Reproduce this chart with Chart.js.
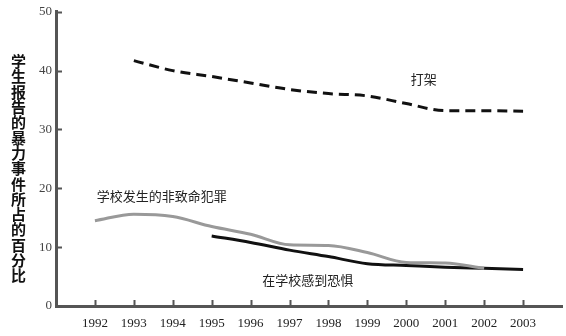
<!DOCTYPE html>
<html>
<head>
<meta charset="utf-8">
<script src="https://cdn.jsdelivr.net/npm/chart.js@4/dist/chart.umd.min.js"></script>
<style>
  html, body { margin: 0; padding: 0; background: #fff; }
  #wrap { position: relative; width: 566px; height: 336px; }
  #yTitle {
    position: absolute; left: 10px; top: 54px;
    writing-mode: vertical-rl; text-orientation: upright;
    font-family: "Noto Sans CJK SC", sans-serif; font-weight: bold;
    font-size: 15px; line-height: 16px; letter-spacing: 0.3px; color: #111;
  }
</style>
</head>
<body>
<div id="wrap">
  <canvas id="chart" width="566" height="336"></canvas>
  <div id="yTitle">学生报告的暴力事件所占的百分比</div>
</div>
<script>
// 年份
const years = [1992, 1993, 1994, 1995, 1996, 1997, 1998, 1999, 2000, 2001, 2002, 2003];
// 打架
const fighting = [null, 41.7, 40.0, 39.0, 37.9, 36.8, 36.1, 35.7, 34.4, 33.2, 33.2, 33.1];
// 学校发生的非致命犯罪
const nonFatalCrime = [14.5, 15.6, 15.2, 13.5, 12.2, 10.4, 10.3, 9.1, 7.4, 7.3, 6.4, null];
// 在学校感到恐惧
const fearAtSchool = [null, null, null, 11.9, 10.8, 9.5, 8.4, 7.2, 6.9, 6.6, 6.4, 6.2];
const yTicks = [0, 10, 20, 30, 40, 50];

// 线旁的文字标注 [文字, 年, 值, 对齐]
const notes = [
  ['打架', 2000.45, 38.6, 'center'],
  ['学校发生的非致命犯罪', 1992.05, 18.6, 'left'],
  ['在学校感到恐惧', 1996.3, 4.4, 'left']
];

const toPts = vals => years.map((y, i) => ({ x: y, y: vals[i] }));

const axisColor = '#555';
const serif = '"Liberation Serif", "DejaVu Serif", serif';

// 向内的刻度线 + 标注
const innerTicks = {
  id: 'innerTicks',
  afterDraw(chart) {
    const { ctx, scales: { x, y } } = chart;
    ctx.save();
    ctx.strokeStyle = axisColor;
    ctx.lineWidth = 2;
    ctx.beginPath();
    years.forEach(yr => {
      const px = Math.round(x.getPixelForValue(yr)) + 0.5;
      ctx.moveTo(px, y.bottom);
      ctx.lineTo(px, y.bottom - 6);
    });
    yTicks.forEach(v => {
      const py = Math.round(y.getPixelForValue(v)) + 0.5;
      ctx.moveTo(x.left, py);
      ctx.lineTo(x.left + 6, py);
    });
    ctx.stroke();

    ctx.fillStyle = '#222';
    ctx.font = '13px "Noto Sans CJK SC", sans-serif';
    ctx.textBaseline = 'middle';
    notes.forEach(([t, yr, v, align]) => {
      ctx.textAlign = align;
      ctx.fillText(t, x.getPixelForValue(yr), y.getPixelForValue(v));
    });
    ctx.restore();
  }
};

new Chart(document.getElementById('chart'), {
  type: 'line',
  data: {
    datasets: [
      {
        label: '打架',
        data: toPts(fighting),
        borderColor: '#111',
        borderWidth: 3,
        borderDash: [10, 6],
        pointRadius: 0,
        cubicInterpolationMode: 'monotone'
      },
      {
        label: '学校发生的非致命犯罪',
        data: toPts(nonFatalCrime),
        borderColor: '#999',
        borderWidth: 3,
        pointRadius: 0,
        cubicInterpolationMode: 'monotone'
      },
      {
        label: '在学校感到恐惧',
        data: toPts(fearAtSchool),
        borderColor: '#111',
        borderWidth: 3,
        pointRadius: 0,
        cubicInterpolationMode: 'monotone'
      }
    ]
  },
  options: {
    responsive: false,
    animation: false,
    layout: { padding: { left: 0, top: 7, right: 4, bottom: 0 } },
    plugins: { legend: { display: false }, tooltip: { enabled: false } },
    scales: {
      x: {
        type: 'linear',
        min: 1991,
        max: 2004,
        afterBuildTicks: s => { s.ticks = years.map(v => ({ value: v })); },
        afterFit: s => { s.height = 30; },
        grid: { display: false, drawTicks: false },
        border: { color: axisColor, width: 3 },
        ticks: {
          padding: 10,
          color: '#222',
          font: { family: serif, size: 13 },
          callback: v => String(v)
        }
      },
      y: {
        min: 0,
        max: 50,
        afterBuildTicks: s => { s.ticks = yTicks.map(v => ({ value: v })); },
        afterFit: s => { s.width = 56; },
        grid: { display: false, drawTicks: false },
        border: { color: axisColor, width: 3 },
        ticks: {
          padding: 4,
          color: '#444',
          font: { family: serif, size: 13 }
        }
      }
    }
  },
  plugins: [innerTicks]
});
</script>
</body>
</html>
